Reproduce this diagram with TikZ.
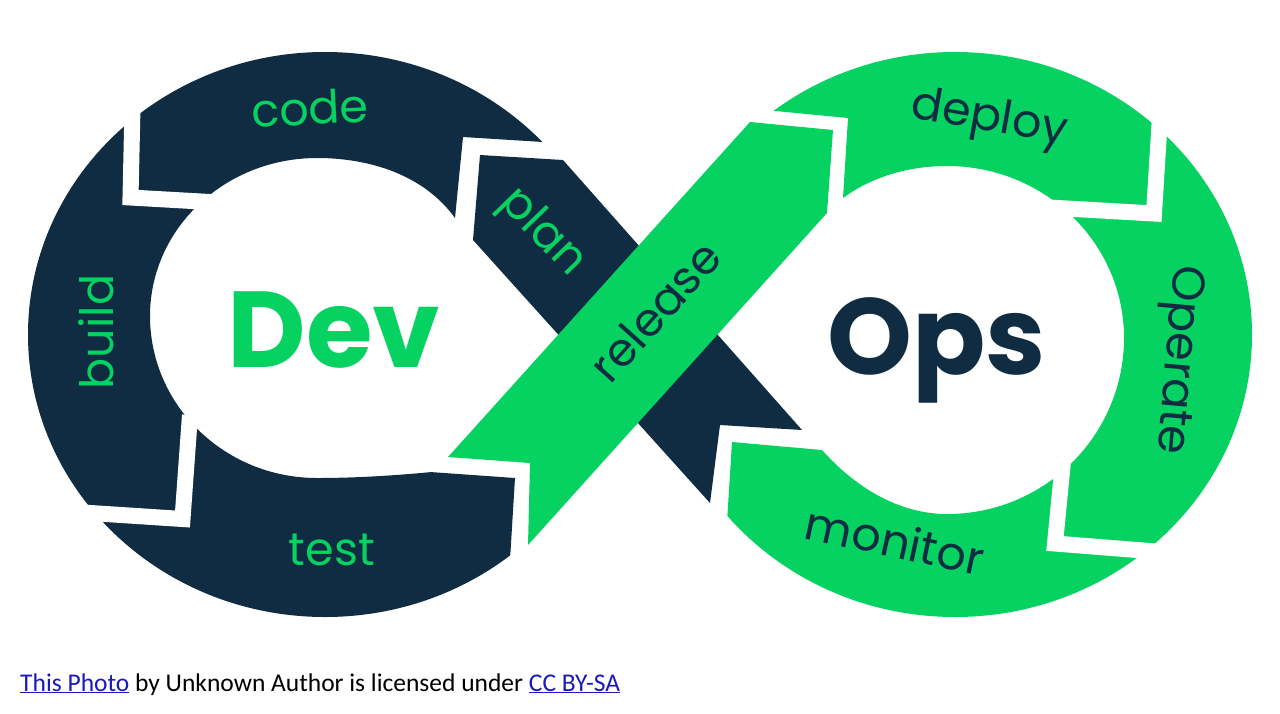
\documentclass[tikz,border=0pt]{standalone}
\usepackage{fontspec}
\setmainfont{Poppins}
\newfontfamily\capfont{Carlito}
\definecolor{navy}{RGB}{16,44,66}
\definecolor{lime}{RGB}{6,210,98}
\definecolor{linkblue}{RGB}{25,25,190}
\begin{document}
\begin{tikzpicture}[x=1pt,y=-1pt,
  gap/.style={draw=white, line width=16pt, miter limit=10, line join=miter},
  lbl/.style={font=\fontsize{46}{46}\selectfont, inner sep=0pt},
  big/.style={font=\fontsize{108}{108}\selectfont\bfseries, inner sep=0pt}]
\useasboundingbox (0,0) rectangle (1280,713);
\fill[white] (0,0) rectangle (1280,713);
% left ring
\begin{scope}
\clip (-10,-10) -- (600,-10) -- (600,141) -- (543,142) -- (463,137) -- (455,218) -- (430,472) -- (515,478) -- (510,560) -- (510,720) -- (-10,720) -- cycle;
\fill[navy, even odd rule] (325,334.5) ellipse [x radius=297, y radius=282.5]
  (455,218) .. controls (424,175) and (370,158) .. (317,158)
  .. controls (224.8,158) and (150,228.7) .. (150,316)
  .. controls (150,405.5) and (224.8,478) .. (317,478)
  .. controls (360,478) and (400,475) .. (432,472)
  -- (540,340) -- cycle;
\end{scope}
% right ring
\begin{scope}
\clip (1290,-10) -- (700,-10) -- (700,109) -- (765,110) -- (848,118) -- (843,198) -- (822,450) -- (732,442) -- (727,522) -- (727,720) -- (1290,720) -- cycle;
\fill[lime, even odd rule] (955,334.5) ellipse [x radius=297, y radius=282.5]
  (843,198) .. controls (873,176) and (910,166) .. (947,166)
  .. controls (1044.8,166) and (1124,243) .. (1124,338)
  .. controls (1124,435) and (1045,514) .. (947,514)
  .. controls (898,514) and (854.7,486.5) .. (822,450)
  -- (740,330) -- cycle;
\end{scope}
% bands
\fill[navy] (480,155) -- (563,160) -- (802,430) -- (720,425) -- (710,503) -- (473,240) -- cycle;
\fill[lime] (448,457) -- (530,463) -- (528,545) -- (827,213) -- (833,130) -- (750,122) -- cycle;
% gaps
\draw[gap] (133,85) -- (130.5,197.5) -- (245,204);
\draw[gap] (190,415) -- (182.5,519) -- (60,511);
\draw[gap] (1161,100) -- (1154,213.5) -- (1040,207);
\draw[gap] (1066,430) -- (1055,543.5) -- (1175,553);
% labels
\node[lbl, text=lime, rotate=3] (code) at (310,108) {code};
\node[lbl, text=lime, rotate=90] (build) at (96,332) {build};
\node[lbl, text=lime] (test) at (332,550) {test};
\node[lbl, text=lime, rotate=-46] (plan) at (542,233) {plan};
\node[lbl, text=navy, rotate=48] (release) at (655,311) {release};
\node[lbl, text=navy, rotate=-10] (deploy) at (989,120) {deploy};
\node[lbl, text=navy, rotate=-95] (operate) at (1176,360) {Operate};
\node[lbl, text=navy, rotate=-12] (monitor) at (895,540) {monitor};
\node[big, text=lime] (dev) at (334,330) {Dev};
\node[big, text=navy] (ops) at (937,350) {Ops};
\node[font=\capfont\fontsize{25.5}{25.5}\selectfont, anchor=base west, inner sep=0pt] (credit) at (20,691)
  {\textcolor{linkblue}{\underline{This Photo}} by Unknown Author is licensed under \textcolor{linkblue}{\underline{CC BY-SA}}};
\end{tikzpicture}
\end{document}
